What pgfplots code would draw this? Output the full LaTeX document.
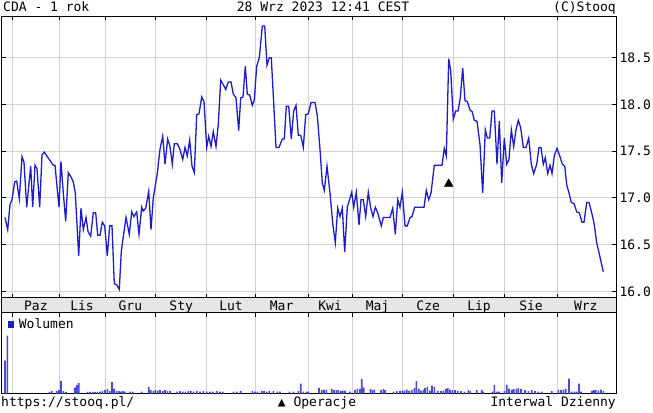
\documentclass[border=0pt]{standalone}
\usepackage{fontspec}
\setmainfont{DejaVu Sans Mono}
\setmonofont{DejaVu Sans Mono}
\usepackage{pgfplots}
\pgfplotsset{compat=1.18}
\definecolor{pline}{RGB}{28,28,200}
\definecolor{vol}{RGB}{75,75,210}
\definecolor{band}{RGB}{230,230,230}
\definecolor{gridc}{RGB}{210,210,210}
\newcommand{\cf}{\fontsize{13bp}{15bp}\selectfont}
\pgfplotsset{
  common/.style={
    scale only axis, width=614.5bp, xmin=1.5, xmax=616,
    axis line style={black, line width=0.9bp},
    tick align=inside, major tick length=4bp,
    tick style={black, line width=0.8bp},
    major grid style={gridc, line width=0.9bp},
    ticklabel style={font=\cf},
  }
}
\begin{document}
\begin{tikzpicture}[x=1bp,y=1bp]
\path[use as bounding box] (0,0) rectangle (653,412);
% ---------- price ----------
\begin{axis}[common, name=main,
  at={(1.5bp,114.3bp)}, anchor=south west, height=281.7bp,
  ymin=15.9315, ymax=18.9465,
  xtick={12.7,59,105,155.7,206.7,255.3,308,352.3,402.7,453.7,504.3,557.7},
  xticklabel=\empty,
  ytick={16,16.5,17,17.5,18,18.5},
  yticklabel pos=right, ytick pos=both, xtick pos=both,
  grid=major,
  yticklabel style={/pgf/number format/.cd, fixed, fixed zerofill, precision=1, assume math mode=true},
]
\addplot[pline, line width=1.3bp] coordinates {
(5.0,16.79) (7.7,16.66) (10.0,16.93) (12.0,16.98) (14.7,17.17) (16.7,17.18) (19.3,16.99) (22.0,17.44) (24.0,17.38) (26.7,16.90) (30.7,17.34) (32.7,16.90) (35.0,17.35) (37.0,17.31) (39.7,16.90) (42.0,17.46) (44.3,17.49) (46.7,17.45) (50.0,17.40) (53.3,17.35) (55.0,17.35) (59.0,16.90) (61.0,17.39) (63.3,17.05) (65.7,16.75) (68.3,17.27) (70.7,17.23) (73.3,17.17) (75.3,17.05) (78.7,16.38) (81.0,16.89) (83.3,16.66) (86.0,16.79) (88.0,16.64) (90.7,16.59) (93.3,16.84) (95.7,16.84) (97.7,16.60) (100.0,16.60) (102.3,16.74) (104.7,16.70) (107.3,16.38) (109.7,16.70) (112.0,16.70) (114.3,16.08) (116.7,16.07) (119.3,16.02) (121.3,16.43) (126.0,16.79) (129.3,16.61) (131.7,16.85) (134.0,16.80) (136.7,16.85) (139.0,16.61) (141.7,16.90) (143.3,16.86) (145.7,16.89) (148.7,17.07) (151.0,16.66) (153.3,17.00) (157.3,17.26)
(160.0,17.52) (162.7,17.66) (165.0,17.36) (167.7,17.63) (170.0,17.55) (172.3,17.36) (174.3,17.58) (177.3,17.58) (180.0,17.52) (182.7,17.41) (185.0,17.54) (187.3,17.45) (189.7,17.62) (192.0,17.34) (194.3,17.27) (196.7,17.89) (199.0,17.90) (201.7,18.08) (204.0,18.03) (206.7,17.54) (208.7,17.66) (211.0,17.55) (213.3,17.71) (216.0,17.55) (218.3,17.79) (220.7,18.26) (223.3,18.21) (225.7,18.16) (228.3,18.24) (231.0,18.24) (233.3,18.11) (236.0,18.07) (238.7,17.72) (240.7,18.07) (243.0,18.08) (245.3,18.41) (247.3,18.11) (249.7,18.10) (252.3,17.99) (254.3,18.05) (256.7,18.41) (259.3,18.50) (262.3,18.84) (264.7,18.84) (267.0,18.42) (269.3,18.50) (271.3,18.50) (276.0,17.54) (279.0,17.54) (282.3,17.63) (284.3,17.63) (286.3,17.98) (288.7,17.98) (291.3,17.63) (293.7,17.93) (296.0,17.99) (298.3,17.67) (300.7,17.67)
(303.3,17.54) (305.7,17.89) (308.3,17.90) (311.0,18.02) (315.0,18.02) (317.3,17.88) (320.0,17.52) (322.3,17.16) (324.3,17.08) (327.0,17.34) (330.0,17.05) (332.7,16.73) (335.3,16.52) (337.7,16.89) (340.0,16.80) (342.3,16.89) (344.7,16.42) (347.3,16.90) (351.7,17.06) (353.7,16.90) (356.3,17.06) (359.0,16.71) (361.0,16.98) (363.3,16.98) (365.7,16.80) (368.3,17.06) (370.7,16.89) (373.0,16.80) (375.3,16.90) (377.7,16.84) (381.3,16.70) (383.3,16.79) (390.0,16.79) (392.7,16.89) (395.3,16.61) (397.7,16.98) (400.0,16.90) (402.3,17.06) (405.0,16.70) (407.3,16.70) (410.0,16.79) (412.0,16.80) (414.7,16.90) (424.0,16.90) (426.3,17.08) (428.7,16.98) (431.0,17.05) (434.3,17.35) (442.0,17.35) (444.3,17.53) (446.3,17.45) (448.7,18.49)
(450.7,18.36) (453.3,17.84) (455.7,17.93) (458.0,17.93) (460.3,18.07) (462.7,18.39) (465.0,18.04) (467.3,18.03) (470.0,17.94) (472.3,17.92) (474.3,17.83) (477.0,17.82) (480.0,17.57) (482.7,17.05) (485.3,17.73) (487.3,17.64) (489.7,17.64) (492.0,17.93) (494.3,17.93) (497.0,17.36) (499.3,17.82) (501.7,17.16) (504.3,17.64) (506.7,17.36) (509.0,17.41) (511.3,17.73) (513.7,17.55) (516.0,17.73) (518.3,17.83) (520.7,17.75) (523.3,17.54) (526.0,17.54) (528.7,17.64) (531.3,17.36) (533.7,17.26) (536.7,17.36) (539.0,17.54) (541.0,17.54) (543.3,17.36) (545.3,17.43) (547.7,17.26) (550.0,17.35) (552.0,17.26) (554.3,17.45) (557.0,17.53) (559.7,17.45) (562.3,17.36) (564.7,17.34) (566.7,17.14) (569.3,17.04) (571.3,16.95) (574.0,16.94) (576.7,16.85) (579.3,16.84) (582.0,16.74) (584.0,16.74) (586.7,16.95) (589.0,16.95) (591.7,16.84) (594.0,16.73) (596.7,16.52) (603.3,16.21)
};
\addplot[only marks, mark=triangle*, mark size=5bp, black] coordinates {(448.7,17.15)};
\end{axis}
% ---------- month band ----------
\begin{axis}[common, name=band,
  at={(main.south west)}, anchor=north west, height=15bp,
  ymin=0, ymax=1, xtick=\empty, ytick=\empty,
  axis background/.style={fill=band},
]
\addplot[draw=none] coordinates {(1.5,0)};
\node[anchor=base, font=\cf] at (axis cs:35.85,0.17) {Paz};
\node[anchor=base, font=\cf] at (axis cs:82,0.17) {Lis};
\node[anchor=base, font=\cf] at (axis cs:130.35,0.17) {Gru};
\node[anchor=base, font=\cf] at (axis cs:181.2,0.17) {Sty};
\node[anchor=base, font=\cf] at (axis cs:231,0.17) {Lut};
\node[anchor=base, font=\cf] at (axis cs:281.65,0.17) {Mar};
\node[anchor=base, font=\cf] at (axis cs:330.15,0.17) {Kwi};
\node[anchor=base, font=\cf] at (axis cs:377.5,0.17) {Maj};
\node[anchor=base, font=\cf] at (axis cs:428.2,0.17) {Cze};
\node[anchor=base, font=\cf] at (axis cs:479,0.17) {Lip};
\node[anchor=base, font=\cf] at (axis cs:531,0.17) {Sie};
\node[anchor=base, font=\cf] at (axis cs:585.8,0.17) {Wrz};
\end{axis}
% ---------- volume ----------
\begin{axis}[common, name=vol,
  at={(band.south west)}, anchor=north west, height=80.8bp,
  ymin=0, ymax=80.8,
  xtick={12.7,59,105,155.7,206.7,255.3,308,352.3,402.7,453.7,504.3,557.7},
  xticklabel=\empty, ytick=\empty, xtick pos=right,
  xmajorgrids,
  legend style={draw=none, fill=none, at={(0,1)}, anchor=north west, xshift=6bp, yshift=-4.5bp,
    font=\cf, inner sep=0pt, nodes={inner sep=1.5bp},
    /tikz/every odd column/.append style={column sep=3bp}},
  legend image code/.code={\fill[pline] (0bp,-3bp) rectangle (6.7bp,3.5bp);},
]
\addplot[ybar, bar width=1.6bp, fill=vol, draw=none] coordinates {
(5,33) (7.3,58) (49.3,1.7) (51.7,2.3) (56.7,2.3) (59,3.3) (61,12.7) (63.3,2.3) (66,1.7) (74.7,6) (76.7,8.3) (78.7,10.7) (87.3,1.7) (90,1.7) (92.7,1.7) (95,1.7) (97.3,1.7) (100,2) (102.3,2.3) (105,3.3) (107.3,4.7) (109.7,2.3) (112,11.3) (114,5) (116.3,2.3) (118.7,2.3) (120.7,2) (122.7,2.3) (124.7,2) (130,2) (132.7,2) (141.7,2) (148.7,6.7) (150.7,3.3) (153.3,2.7) (155.3,3.3) (157.7,3) (160,3.3) (162.7,2.7) (165,3.3) (167.3,2.7) (170,2.7) (176.7,2) (180,2.3) (182.7,2) (185.3,2) (188.3,2.3) (190.7,2.7) (193.3,2) (196.7,2.3) (200,2) (203.3,2.3) (206.7,2) (210,2) (212.7,2) (216.7,2.3) (220,2) (222.7,2) (233.3,2) (236.7,2) (240.7,2.7) (252.3,2.3) (255,2) (257.3,2) (261.7,2.7) (264,2.3) (266.7,2) (269.3,2.7) (273.3,2.3) (277.3,2) (280,2) (289.3,2) (293.3,2) (298.3,2.3) (300.7,10) (303.3,2) (306.7,2)
(308.3,2) (319,5.7) (321.7,3.3) (324,4) (326.3,4) (331.7,4.7) (334,3.3) (336.3,3.3) (338.3,3.3) (340.7,2.3) (342.7,3) (345,3) (350,2) (355,3.3) (357.3,5) (360,4.3) (361.7,14.7) (363.7,6) (370.3,4.7) (372.3,3.3) (374.3,4) (381,3.3) (383.3,4.7) (385,3.3) (393.3,2) (396.7,2.3) (400,2.7) (402.3,3) (404.3,3) (406.7,4) (409,2.7) (411.7,3.7) (414.3,5.7) (416.3,12.3) (418.7,5) (421,3) (423.3,3.7) (425,5.3) (427.3,6.7) (430,3) (432,8) (434.3,6.7) (437.7,2.7) (441,2.3) (443.3,3) (445.7,4.3) (447.7,5.7) (450,4) (452.3,3.3) (455,3.3) (457.7,2.7) (461,2.3) (464.3,2) (468.3,3.3) (470.3,2.3) (476.7,3.3) (481.7,3.7) (483.3,2) (492.3,2) (494.3,8.3) (496.7,2) (499,2) (504.3,2.3) (506.7,8.7) (509,5) (511.7,4) (513.7,4.3) (516.3,4.3) (518.3,5.7) (521,4.7) (525,3.3) (528.3,2.7) (531.7,3.3) (535,2.3) (538.3,2) (541.7,2) (551.7,2.3) (558.3,3.7) (561,3.3) (563.3,4) (565.7,4.7) (569,15) (571.7,2) (574.3,2) (576.7,2) (579,10) (581,2) (591.7,2.7) (593.7,3.3) (595.7,3.3) (598.3,3) (601,4) (603.3,2.7)
};
\addlegendentry{Wolumen}
\end{axis}
% ---------- header / footer ----------
\node[anchor=base west, inner sep=0pt, font=\cf] at (3bp,400bp) {CDA - 1 rok};
\node[anchor=base, inner sep=0pt, font=\cf] at (323bp,400bp) {28 Wrz 2023 12:41 CEST};
\node[anchor=base east, inner sep=0pt, font=\cf] at (616bp,400bp) {(C)Stooq};
\node[anchor=base west, inner sep=0pt, font=\cf] at (1bp,5.3bp) {https://stooq.pl/};
\node[anchor=base, inner sep=0pt, font=\cf] at (317bp,5.3bp) {▲ Operacje};
\node[anchor=base east, inner sep=0pt, font=\cf] at (616bp,5.3bp) {Interwal Dzienny};
\end{tikzpicture}
\end{document}
